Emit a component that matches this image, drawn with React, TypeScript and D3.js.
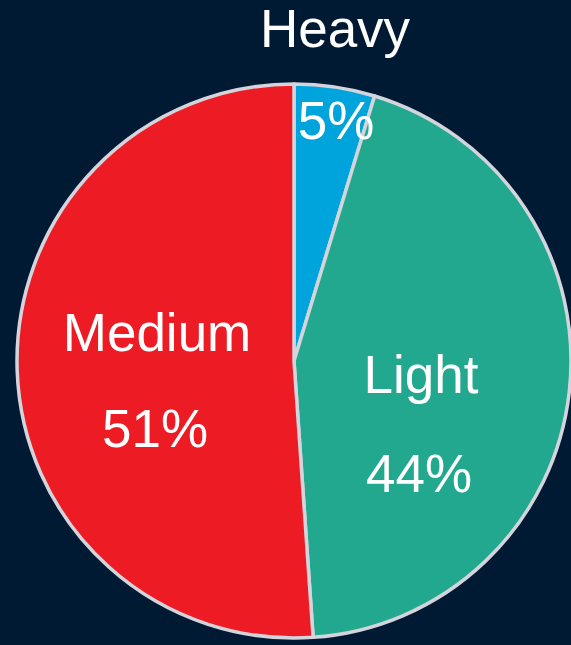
import React from "react";
import * as d3 from "d3";

const categories = ["Heavy", "Light", "Medium"];
const values = [4.7, 44.2, 51.1];
const colors = ["#00A4DC", "#21A88E", "#ED1C24"];

const W = 571;
const H = 645;
const CX = 294;
const CY = 361;
const R = 277;

// label anchor offsets relative to the pie centre (name line, value line)
const labelLayout = [
  { name: [41, -314], value: [42, -222] },
  { name: [127, 32], value: [125, 131] },
  { name: [-137, -10], value: [-139, 86] },
];

export default function App() {
  const pie = d3.pie<number>().sort(null).value((d) => d);
  const arcs = pie(values);
  const arc = d3.arc<d3.PieArcDatum<number>>().innerRadius(0).outerRadius(R);
  const total = d3.sum(values);
  return (
    <div style={{ position: "fixed", left: 0, top: 0 }}>
      <svg width={W} height={H} style={{ display: "block", background: "#011A34" }}>
        <rect width={W} height={H} fill="#011A34" />
        <g transform={`translate(${CX},${CY})`}>
          {arcs.map((a, i) => (
            <path key={i} d={arc(a) || ""} fill={colors[i]} stroke="#D4D4DC" strokeWidth={3.5} strokeLinejoin="round" />
          ))}
          {arcs.map((a, i) => {
            const L = labelLayout[i];
            const pct = Math.round((values[i] / total) * 100) + "%";
            return (
              <g key={"t" + i} fill="#FFFFFF" fontFamily="'Liberation Sans', Arial, sans-serif" fontSize={53} textAnchor="middle">
                <text x={L.name[0]} y={L.name[1]}>{categories[i]}</text>
                <text x={L.value[0]} y={L.value[1]}>{pct}</text>
              </g>
            );
          })}
        </g>
      </svg>
    </div>
  );
}
